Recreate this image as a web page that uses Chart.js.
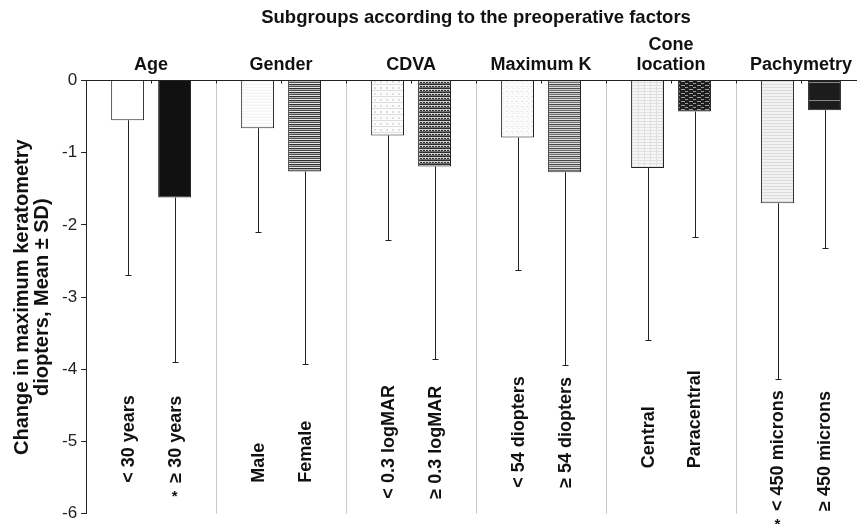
<!DOCTYPE html>
<html>
<head>
<meta charset="utf-8">
<script src="https://cdn.jsdelivr.net/npm/chart.js@4.4.0/dist/chart.umd.min.js"></script>
<style>
  html, body { margin: 0; padding: 0; background: #fff; overflow: hidden; }
</style>
</head>
<body>
<canvas id="myChart" width="870" height="528"></canvas>
<script>
// preoperative factor groups, two subgroups each
const groups = ["Age", "Gender", "CDVA", "Maximum K", ["Cone", "location"], "Pachymetry"];
const firstLabels = ["< 30 years", "Male", "< 0.3 logMAR", "< 54 diopters", "Central", "< 450 microns"];
const secondLabels = ["≥ 30 years", "Female", "≥ 0.3 logMAR", "≥ 54 diopters", "Paracentral", "≥ 450 microns"];
const firstMean = [-0.55, -0.66, -0.76, -0.79, -1.21, -1.70];
const secondMean = [-1.62, -1.26, -1.19, -1.27, -0.43, -0.41];
const firstSD = [2.15, 1.44, 1.45, 1.84, 2.39, 2.44];
const secondSD = [2.28, 2.67, 2.67, 2.67, 1.74, 1.91];
const firstStar = [false, false, false, false, false, true];
const secondStar = [true, false, false, false, false, false];
const yTicks = [0, -1, -2, -3, -4, -5, -6];

// where the rotated subgroup labels end (y value of their bottom)
const labelBottom = [-5.57, -5.57, -5.79, -5.64, -5.37, -5.96];

const FONT = "'Liberation Sans', Arial, Helvetica, sans-serif";

function makePattern(w, h, bg, draw) {
  const c = document.createElement("canvas");
  c.width = w;
  c.height = h;
  const g = c.getContext("2d");
  g.fillStyle = bg;
  g.fillRect(0, 0, w, h);
  draw(g);
  return document.getElementById("myChart").getContext("2d").createPattern(c, "repeat");
}

function rows(colors) {
  return makePattern(4, colors.length, "#fff", (g) => {
    colors.forEach((col, i) => {
      g.fillStyle = col;
      g.fillRect(0, i, 4, 1);
    });
  });
}

const patMale = rows(["#f4f4f4", "#fff", "#fafafa"]);
const patFemale = rows(["#2e2e2e", "#b5b5b5", "#4a4a4a", "#e8e8e8"]);
const patCdva1 = makePattern(6, 6, "#fcfcfc", (g) => {
  g.fillStyle = "#dedede";
  g.fillRect(0, 0, 6, 1);
  g.fillRect(2, 3, 2, 2);
});
const patCdva2 = makePattern(6, 4, "#cfcfcf", (g) => {
  g.fillStyle = "#2e2e2e";
  g.fillRect(0, 0, 6, 1);
  g.fillRect(0, 2, 2, 1);
  g.fillRect(3, 2, 2, 1);
  g.fillStyle = "#707070";
  g.fillRect(0, 3, 6, 1);
});
const patK1 = makePattern(5, 5, "#fbfbfb", (g) => {
  g.fillStyle = "#e6e6e6";
  g.fillRect(1, 1, 2, 1);
  g.fillRect(3, 3, 1, 1);
});
const patK2 = rows(["#4a4a4a", "#c4c4c4", "#707070", "#e0e0e0"]);
const patCentral = makePattern(6, 3, "#f6f6f6", (g) => {
  g.fillStyle = "#e0e0e0";
  g.fillRect(0, 1, 6, 1);
  g.fillRect(2, 0, 1, 3);
});
const patPara = makePattern(8, 4, "#1e1e1e", (g) => {
  g.fillStyle = "#9a9a9a";
  g.fillRect(1, 1, 4, 1);
  g.fillRect(5, 3, 3, 1);
});
const pat450a = makePattern(6, 3, "#f2f2f2", (g) => {
  g.fillStyle = "#dadada";
  g.fillRect(0, 0, 6, 1);
});
const pat450b = makePattern(4, 18, "#1c1c1c", (g) => {
  g.fillStyle = "#8a8a8a";
  g.fillRect(0, 10, 4, 1);
});

const firstFill = ["#ffffff", patMale, patCdva1, patK1, patCentral, pat450a];
const secondFill = ["#111111", patFemale, patCdva2, patK2, patPara, pat450b];

// whiskers (mean - SD), subgroup labels and the small top ticks
const extras = {
  id: "extras",
  afterDatasetsDraw(chart) {
    const c = chart.ctx;
    const y = chart.scales.y;
    const x = chart.scales.x;
    const sets = [
      { mean: firstMean, sd: firstSD, labels: firstLabels, star: firstStar },
      { mean: secondMean, sd: secondSD, labels: secondLabels, star: secondStar },
    ];
    c.save();
    sets.forEach((s, d) => {
      chart.getDatasetMeta(d).data.forEach((bar, i) => {
        const px = Math.round(bar.x) + 0.5;
        const top = y.getPixelForValue(s.mean[i]);
        const bot = Math.round(y.getPixelForValue(s.mean[i] - s.sd[i])) + 0.5;
        c.strokeStyle = "#222";
        c.lineWidth = 1;
        c.beginPath();
        c.moveTo(px, top);
        c.lineTo(px, bot);
        c.moveTo(px - 3, bot);
        c.lineTo(px + 3, bot);
        c.stroke();

        const ly = y.getPixelForValue(labelBottom[i]);
        c.save();
        c.translate(bar.x, ly);
        c.rotate(-Math.PI / 2);
        c.fillStyle = "#111";
        c.font = "bold 18px " + FONT;
        c.textAlign = "left";
        c.textBaseline = "middle";
        c.fillText(s.labels[i], 0, 1);
        c.restore();
        if (s.star[i]) {
          c.fillStyle = "#111";
          c.font = "bold 15px " + FONT;
          c.textAlign = "center";
          c.textBaseline = "middle";
          c.fillText("*", bar.x, ly + 14);
        }
      });
    });
    // little ticks under the top axis
    const half = (x.getPixelForValue(1) - x.getPixelForValue(0)) / 2;
    c.strokeStyle = "#222";
    c.beginPath();
    groups.forEach((g, i) => {
      const cx = x.getPixelForValue(i);
      [cx - half, cx].forEach((t) => {
        const tx = Math.round(t) + 0.5;
        c.moveTo(tx, chart.chartArea.top);
        c.lineTo(tx, chart.chartArea.top + 3);
      });
    });
    c.stroke();
    c.restore();
  },
};

var ctx = document.getElementById("myChart").getContext("2d");
var myChart = new Chart(ctx, {
  type: "bar",
  data: {
    labels: groups,
    datasets: [
      {
        data: firstMean,
        backgroundColor: firstFill,
        borderColor: "#222",
        borderWidth: 1,
      },
      {
        data: secondMean,
        backgroundColor: secondFill,
        borderColor: "#222",
        borderWidth: 1,
      },
    ],
  },
  options: {
    responsive: false,
    animation: false,
    categoryPercentage: 0.723,
    barPercentage: 0.7,
    layout: { padding: { left: 12, right: 4, top: 0, bottom: 0 } },
    plugins: {
      legend: { display: false },
      tooltip: { enabled: false },
      title: {
        display: true,
        fullSize: false,
        text: "Subgroups according to the preoperative factors",
        color: "#111",
        font: { family: FONT, size: 18.5, weight: "bold" },
        padding: { top: 7, bottom: 1 },
      },
    },
    scales: {
      x: {
        position: "top",
        offset: true,
        grid: { offset: true, color: "#c8c8c8", drawTicks: false },
        border: { display: true, color: "#222", width: 1 },
        ticks: {
          color: "#111",
          padding: 5,
          font: { family: FONT, size: 18, weight: "bold", lineHeight: 1.12 },
          maxRotation: 0,
          autoSkip: false,
        },
      },
      y: {
        min: -6,
        max: 0,
        afterBuildTicks(axis) {
          axis.ticks = yTicks.map((v) => ({ value: v }));
        },
        grid: { drawOnChartArea: false, drawTicks: true, tickLength: 5, color: "#222" },
        border: { display: true, color: "#222", width: 1 },
        ticks: {
          color: "#222",
          padding: 4,
          font: { family: FONT, size: 17 },
        },
        title: {
          display: true,
          text: ["Change in maximum keratometry", "diopters, Mean ± SD)"],
          color: "#111",
          font: { family: FONT, size: 20, weight: "bold", lineHeight: 1.0 },
          padding: { top: 0, bottom: 6 },
        },
      },
    },
  },
  plugins: [extras],
});
</script>
</body>
</html>
